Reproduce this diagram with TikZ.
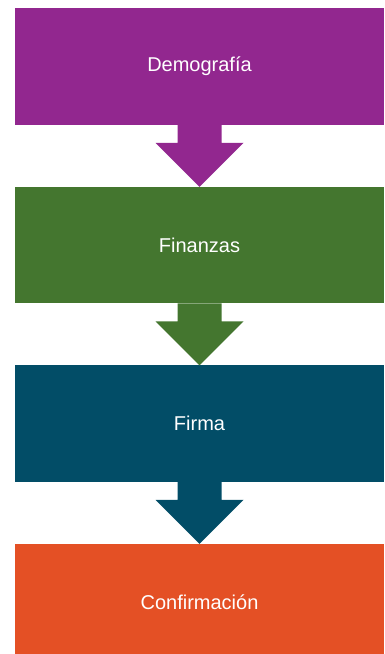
\documentclass[tikz,border=0pt]{standalone}
\usepackage{fontspec}
\setmainfont{Liberation Sans}
\usetikzlibrary{positioning,calc}
\definecolor{demo}{HTML}{92278F}
\definecolor{fin}{HTML}{44762F}
\definecolor{firma}{HTML}{024D67}
\definecolor{conf}{HTML}{E45025}

\begin{document}
\begin{tikzpicture}[x=1pt,y=1pt,
        paso/.style={minimum width=369pt,minimum height=116.4pt,inner sep=0pt,outer sep=0pt,
            text=white,font=\fontsize{20}{24}\selectfont}]
                \useasboundingbox (0,0) rectangle (384,-654);
                \node[paso,fill=demo,anchor=north west] (demo) at (15,-8.4) {Demografía};
                \node[paso,fill=fin,below=62.1pt of demo] (fin) {Finanzas};
                \node[paso,fill=firma,below=62.1pt of fin] (firma) {Firma};
                \node[paso,fill=conf,below=62.1pt of firma] (conf) {Confirmación};
                \foreach \a/\b in {demo/fin,fin/firma,firma/conf}
                    \fill[\a] ($(\a.south)+(-22,0)$) -- ++(0,-18) -- ++(-22,0) -- (\b.north)
                        -- ++(44,44) -- ++(-22,0) -- ++(0,18) -- cycle;
            \end{tikzpicture}
\end{document}
